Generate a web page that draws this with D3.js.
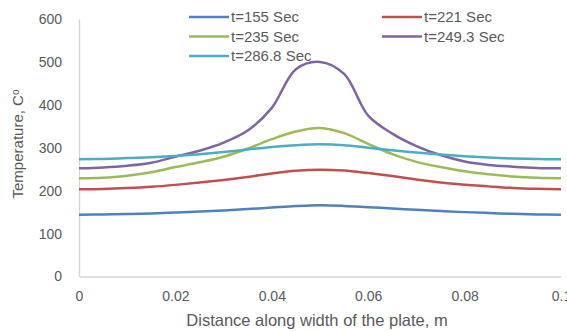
<!DOCTYPE html>
<html>
<head>
<meta charset="utf-8">
<script src="https://cdn.jsdelivr.net/npm/d3@7"></script>
<style>
  body { margin: 0; background: #fff; }
  text { font-family: "Liberation Sans", Arial, sans-serif; fill: #595959; }
</style>
</head>
<body>
<div id="chart"></div>
<script>
// distances along the plate (m)
var distance = [0, 0.005, 0.01, 0.015, 0.02, 0.025, 0.03, 0.035, 0.04, 0.045, 0.05,
                0.055, 0.06, 0.065, 0.07, 0.075, 0.08, 0.085, 0.09, 0.095, 0.1];

var t155  = [144, 144.5, 145.5, 147, 149, 151.5, 154, 157, 160.5, 164, 166,
             164.5, 161.5, 158.5, 155.5, 152.5, 150, 148, 146, 144.5, 144];
var t221  = [203.5, 204, 206, 209, 213.5, 219, 225, 232, 240, 246.5, 249,
             247, 241, 234, 226, 219, 214, 210, 206.5, 204.5, 203.5];
var t235  = [229, 230, 235, 243, 255, 266, 279, 298, 320, 338, 346,
             334, 309, 285, 267, 255, 245, 238, 233, 230, 229];
var t2493 = [252, 254, 258, 265, 279, 293, 312, 340, 393, 483, 500,
             472, 375, 333, 304, 283, 268, 260, 256, 253, 252];
var t2868 = [273, 274, 276, 278, 281, 285, 290, 296, 302, 306, 308,
             306, 300, 294, 289, 284, 280, 277, 275, 273.5, 273];

var seriesNames = ["t=155 Sec", "t=221 Sec", "t=235 Sec", "t=249.3 Sec", "t=286.8 Sec"];
var seriesValues = [t155, t221, t235, t2493, t2868];
var colors = ["#4F81BD", "#C0504D", "#9BBB59", "#8064A2", "#4BACC6"];

var xTicks = [0, 0.02, 0.04, 0.06, 0.08, 0.1];
var yTicks = [0, 100, 200, 300, 400, 500, 600];

var svgWidth = 567;
var svgHeight = 331;

var svg = d3.select("#chart")
    .append("svg")
    .attr("width", svgWidth)
    .attr("height", svgHeight);

var xScale = d3.scaleLinear().domain([0, 0.1]).range([79, 561]);
var yScale = d3.scaleLinear().domain([0, 600]).range([276.5, 19]);

// axes
var xAxis = svg.append("g")
    .attr("transform", "translate(0," + yScale(0) + ")")
    .call(d3.axisBottom(xScale).tickValues(xTicks).tickSize(0).tickPadding(15)
        .tickFormat(function(d) { return d === 0 ? "0" : d3.format("")(+d.toFixed(2)); }));
xAxis.select(".domain").attr("stroke", "#d4d4d4").attr("stroke-width", 1.3);
xAxis.selectAll("text").style("font-size", "14px").attr("fill", "#595959");

var yAxis = svg.append("g")
    .attr("transform", "translate(" + xScale(0) + ",0)")
    .call(d3.axisLeft(yScale).tickValues(yTicks).tickSize(0).tickPadding(17));
yAxis.select(".domain").attr("stroke", "#d4d4d4").attr("stroke-width", 1.3);
yAxis.selectAll("text").style("font-size", "14px").attr("fill", "#595959");

// lines
var line = d3.line()
    .x(function(d, i) { return xScale(distance[i]); })
    .y(function(d) { return yScale(d); })
    .curve(d3.curveCatmullRom.alpha(0.5));

svg.selectAll(".series")
    .data(seriesValues)
    .enter()
    .append("path")
    .attr("class", "series")
    .attr("d", line)
    .attr("fill", "none")
    .attr("stroke", function(d, i) { return colors[i]; })
    .attr("stroke-width", 2.5);

// legend
var legendPos = [[189, 17], [382, 17], [189, 36.5], [382, 36.5], [189, 56]];
var legend = svg.selectAll(".legend")
    .data(seriesNames)
    .enter()
    .append("g")
    .attr("class", "legend")
    .attr("transform", function(d, i) { return "translate(" + legendPos[i][0] + "," + legendPos[i][1] + ")"; });

legend.append("line")
    .attr("x1", 0).attr("x2", 40)
    .attr("stroke", function(d, i) { return colors[i]; })
    .attr("stroke-width", 2.5);

legend.append("text")
    .attr("x", 42)
    .attr("dy", "0.35em")
    .style("font-size", "15px")
    .text(function(d) { return d; });

// axis titles
svg.append("text")
    .attr("x", 317)
    .attr("y", 326)
    .style("text-anchor", "middle")
    .style("font-size", "16.5px")
    .text("Distance along width of the plate, m");

var yTitle = svg.append("text")
    .attr("transform", "translate(23,144) rotate(-90)")
    .style("text-anchor", "middle")
    .style("font-size", "15px");
yTitle.append("tspan").text("Temperature, C");
yTitle.append("tspan").attr("dy", "-0.45em").style("font-size", "10px").text("o");
</script>
</body>
</html>
